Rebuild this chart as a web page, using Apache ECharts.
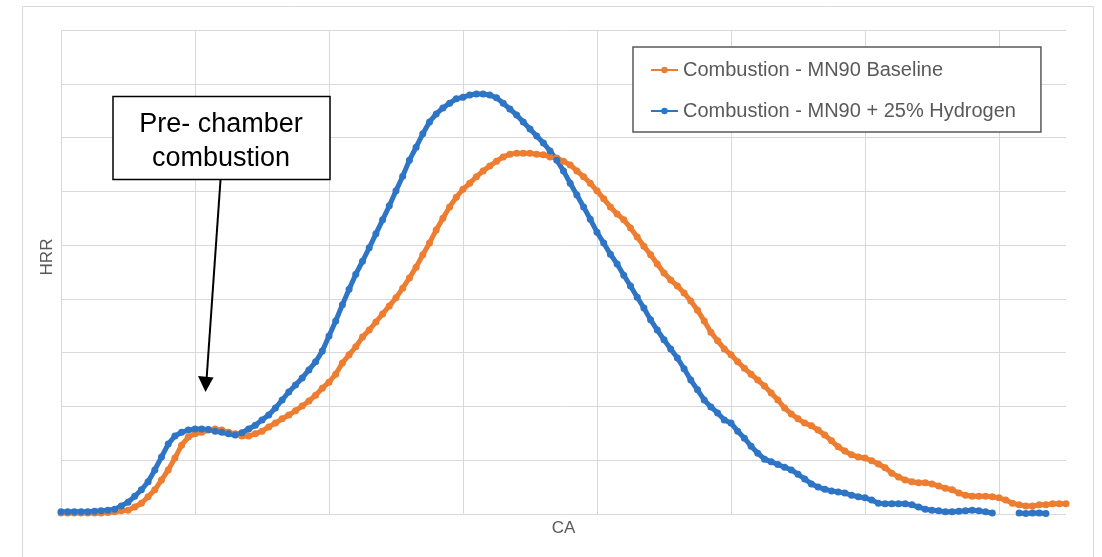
<!DOCTYPE html>
<html>
<head>
<meta charset="utf-8">
<title>HRR vs CA</title>
<script src="https://cdn.jsdelivr.net/npm/echarts@6/dist/echarts.min.js"></script>
<style>
  html, body { margin: 0; padding: 0; background: #fff; }
  #main { width: 1102px; height: 557px; }
</style>
</head>
<body>
<div id="main"></div>
<script>
  // crank angle sampling (x axis has no labels, grid every 10)
  var caStart = 0
  var caStep = 0.5
  var caTicks = [0, 10, 20, 30, 40, 50, 60, 70]

  var seriesNames = ['Combustion - MN90 Baseline', 'Combustion - MN90 + 25% Hydrogen']

  // heat release rate
  var baseline = [
    0.2, 0.2, 0.2, 0.2, 0.2, 0.2, 0.2, 0.3, 0.4, 0.6,
    0.7, 1.3, 2.0, 3.2, 4.5, 6.3, 8.2, 10.4, 12.8, 14.3,
    14.9, 15.2, 15.6, 15.8, 15.6, 15.2, 14.9, 14.5, 14.5, 14.9,
    15.4, 16.2, 16.9, 17.7, 18.4, 19.2, 20.1, 21.0, 22.1, 23.4,
    24.5, 26.0, 28.1, 29.6, 31.1, 32.9, 34.2, 35.7, 37.2, 38.7,
    40.2, 42.0, 43.9, 45.9, 48.2, 50.4, 52.8, 55.0, 57.1, 58.9,
    60.4, 61.5, 62.7, 63.8, 64.7, 65.6, 66.4, 66.9, 67.1, 67.1,
    67.1, 66.9, 66.8, 66.4, 66.2, 65.6, 64.9, 63.8, 62.7, 61.5,
    60.1, 58.6, 57.1, 55.8, 54.7, 53.2, 51.5, 49.8, 48.2, 46.5,
    44.8, 43.5, 42.4, 41.1, 39.6, 37.9, 35.9, 33.8, 32.2, 30.7,
    29.6, 28.3, 27.1, 26.0, 24.9, 23.8, 22.5, 21.2, 19.7, 18.6,
    17.7, 16.9, 16.4, 15.6, 14.7, 13.6, 12.5, 11.7, 11.0, 10.6,
    10.4, 9.9, 9.3, 8.6, 7.6, 6.9, 6.3, 6.0, 5.8, 5.8,
    5.6, 5.2, 4.8, 4.5, 3.9, 3.5, 3.3, 3.3, 3.3, 3.2,
    3.0, 2.6, 2.0, 1.7, 1.5, 1.5, 1.7, 1.7, 1.9, 1.9, 1.9
  ]

  var hydrogen = [
    0.4, 0.4, 0.4, 0.4, 0.4, 0.5, 0.6, 0.7, 0.9, 1.5,
    2.2, 3.3, 4.5, 6.0, 8.2, 10.6, 13.0, 14.5, 15.2, 15.6,
    15.8, 15.8, 15.7, 15.4, 15.2, 14.9, 14.7, 15.1, 15.8, 16.5,
    17.5, 18.4, 19.7, 21.2, 22.7, 24.0, 25.3, 26.8, 28.3, 30.3,
    33.1, 35.9, 38.9, 41.8, 44.6, 47.0, 49.5, 52.1, 54.7, 57.3,
    60.1, 62.8, 65.8, 68.2, 70.7, 72.9, 74.4, 75.5, 76.4, 77.2,
    77.5, 77.9, 78.1, 78.1, 77.9, 77.4, 76.4, 75.3, 74.2, 72.9,
    71.6, 70.3, 69.0, 67.5, 65.8, 63.8, 61.5, 59.3, 57.1, 54.8,
    52.4, 50.4, 48.3, 46.5, 44.4, 42.4, 40.3, 38.3, 36.1, 34.2,
    32.4, 30.7, 29.0, 27.0, 24.9, 23.1, 21.2, 19.9, 18.8, 17.5,
    16.9, 15.4, 14.1, 12.6, 11.3, 10.2, 9.7, 9.2, 8.7, 8.2,
    7.4, 6.5, 5.6, 5.0, 4.6, 4.3, 4.1, 3.9, 3.5, 3.2,
    3.0, 2.6, 2.0, 1.9, 1.9, 1.9, 1.9, 1.7, 1.3, 0.9,
    0.7, 0.6, 0.4, 0.4, 0.5, 0.6, 0.7, 0.6, 0.4, 0.2,
    null, null, null, 0.2, 0.1, 0.2, 0.2, 0.1, null, null, null
  ]

  var noteText = 'Pre- chamber\ncombustion'
  var xName = 'CA'
  var yName = 'HRR'

  var orange = '#ED7D31'
  var blue = '#2E75C6'
  var gridGrey = '#d9d9d9'
  var textGrey = '#595959'

  function toPairs(vals) {
    return vals.map(function (v, i) {
      return [caStart + i * caStep, v]
    })
  }

  function lineSeries(name, vals, color) {
    return {
      name: name,
      type: 'line',
      data: toPairs(vals),
      symbol: 'circle',
      symbolSize: 7,
      connectNulls: false,
      lineStyle: { color: color, width: 5 },
      itemStyle: { color: color },
      emphasis: { disabled: true }
    }
  }

  var chart = echarts.init(document.getElementById('main'))

  var option = {
    animation: false,
    backgroundColor: '#fff',
    grid: { left: 61, top: 30, right: 36, bottom: 43 },
    xAxis: {
      type: 'value',
      min: caTicks[0],
      max: 75,
      interval: 10,
      name: xName,
      nameLocation: 'middle',
      nameGap: 6,
      nameTextStyle: { fontFamily: 'Arial', fontSize: 17, color: textGrey },
      axisLine: { show: false },
      axisTick: { show: false },
      axisLabel: { show: false },
      // no line at the right end (75), like the original
      splitLine: { show: true, showMaxLine: false, lineStyle: { color: gridGrey, width: 1 } }
    },
    yAxis: {
      type: 'value',
      min: 0,
      max: 90,
      interval: 10,
      name: yName,
      nameLocation: 'middle',
      nameGap: 5,
      nameTextStyle: { fontFamily: 'Arial', fontSize: 17, color: textGrey, padding: [0, 0, 0, 30] },
      axisLine: { show: false },
      axisTick: { show: false },
      axisLabel: { show: false },
      splitLine: { show: true, lineStyle: { color: gridGrey, width: 1 } }
    },
    legend: {
      orient: 'vertical',
      left: 633,
      top: 47,
      padding: [13, 25, 11, 17],
      itemGap: 21,
      itemWidth: 27,
      itemHeight: 8,
      borderColor: textGrey,
      borderWidth: 1.5,
      backgroundColor: '#fff',
      lineStyle: { width: 2 },
      textStyle: { fontFamily: 'Arial', fontSize: 20, color: textGrey },
      data: seriesNames
    },
    series: [
      lineSeries(seriesNames[0], baseline, orange),
      lineSeries(seriesNames[1], hydrogen, blue)
    ],
    graphic: [
      // chart area border
      {
        type: 'rect',
        silent: true,
        shape: { x: 22.5, y: 6.5, width: 1071, height: 600 },
        style: { fill: 'none', stroke: gridGrey, lineWidth: 1 }
      },
      // annotation box + arrow
      {
        type: 'rect',
        shape: { x: 113, y: 96.5, width: 217, height: 83 },
        style: { fill: '#fff', stroke: '#000', lineWidth: 1.5 },
        z: 100
      },
      {
        type: 'text',
        x: 221,
        y: 142,
        style: {
          text: noteText,
          fill: '#000',
          fontFamily: 'Arial',
          fontSize: 27,
          lineHeight: 34,
          align: 'center',
          verticalAlign: 'middle'
        },
        z: 101
      },
      {
        type: 'line',
        shape: { x1: 220.5, y1: 180, x2: 206.5, y2: 380 },
        style: { stroke: '#000', lineWidth: 2 },
        z: 100
      },
      {
        type: 'polygon',
        shape: { points: [[198, 376], [213.5, 377.5], [205.5, 392]] },
        style: { fill: '#000' },
        z: 100
      }
    ]
  }

  chart.setOption(option)
</script>
</body>
</html>
